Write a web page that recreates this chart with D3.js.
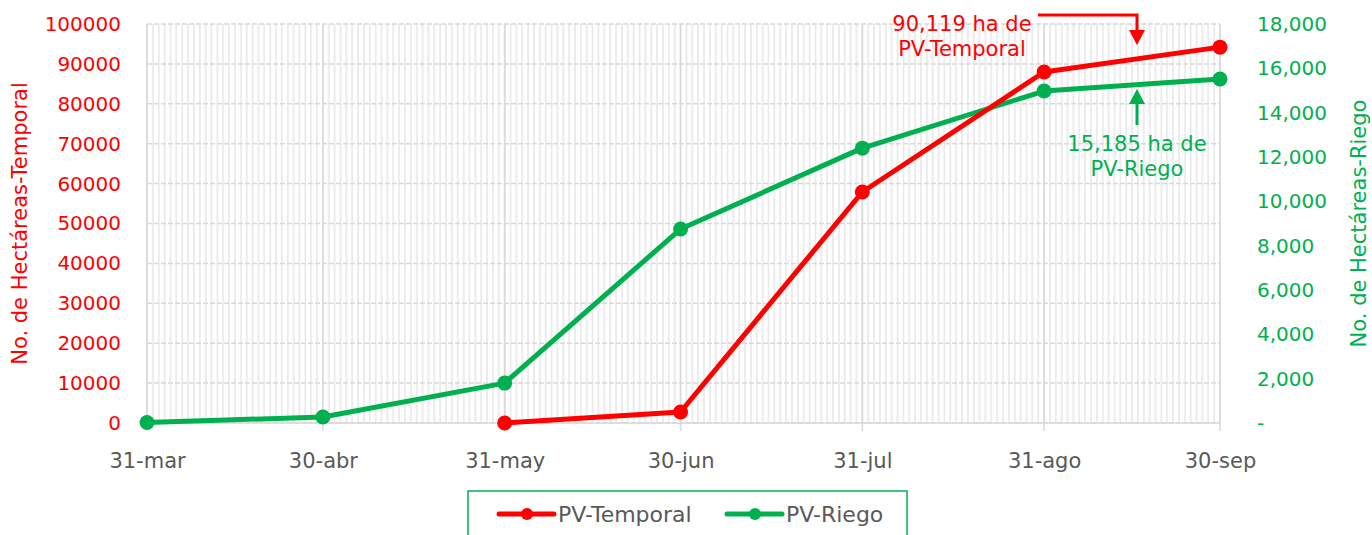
<!DOCTYPE html>
<html>
<head>
<meta charset="utf-8">
<script src="https://cdn.jsdelivr.net/npm/d3@7/dist/d3.min.js"></script>
<style>
  body { margin: 0; background: #fff; }
  text { font-family: "DejaVu Sans", sans-serif; }
</style>
</head>
<body>
<div id="chart"></div>
<script>
// data
var dates = ["2023-03-31", "2023-04-30", "2023-05-31", "2023-06-30", "2023-07-31", "2023-08-31", "2023-09-30"];
var tickLabels = ["31-mar", "30-abr", "31-may", "30-jun", "31-jul", "31-ago", "30-sep"];
var temporal = [null, null, 0, 2750, 57900, 87970, 94200];
var riego = [20, 270, 1800, 8750, 12400, 14975, 15520];
var leftTicks = [0, 10000, 20000, 30000, 40000, 50000, 60000, 70000, 80000, 90000, 100000];
var rightTicks = [0, 2000, 4000, 6000, 8000, 10000, 12000, 14000, 16000, 18000];

var red = "#ff0000";
var green = "#00b050";
var grey = "#595959";

var W = 1372, H = 535;
var margin = {top: 24, left: 147, right: 152, bottom: 112};

var svg = d3.select("#chart").append("svg")
  .attr("width", W)
  .attr("height", H);

var parse = d3.timeParse("%Y-%m-%d");
var dd = dates.map(parse);

var x = d3.scaleTime()
  .domain([dd[0], dd[dd.length - 1]])
  .range([margin.left, W - margin.right]);
var yL = d3.scaleLinear().domain([0, 100000]).range([H - margin.bottom, margin.top]);
var yR = d3.scaleLinear().domain([0, 18000]).range([H - margin.bottom, margin.top]);

// minor daily gridlines
svg.append("g").selectAll("line")
  .data(d3.timeDay.range(dd[0], d3.timeDay.offset(dd[dd.length - 1], 1)))
  .enter().append("line")
  .attr("x1", function(d) { return x(d); })
  .attr("x2", function(d) { return x(d); })
  .attr("y1", margin.top)
  .attr("y2", H - margin.bottom)
  .attr("stroke", "#ececec")
  .attr("stroke-width", 2);

// horizontal dashed gridlines
svg.append("g").selectAll("line")
  .data(leftTicks)
  .enter().append("line")
  .attr("x1", margin.left)
  .attr("x2", W - margin.right)
  .attr("y1", function(d) { return yL(d); })
  .attr("y2", function(d) { return yL(d); })
  .attr("stroke", "#d9d9d9")
  .attr("stroke-width", 1.5)
  .attr("stroke-dasharray", "5,2");

// major month lines
svg.append("g").selectAll("line")
  .data(dd)
  .enter().append("line")
  .attr("x1", function(d) { return x(d); })
  .attr("x2", function(d) { return x(d); })
  .attr("y1", margin.top)
  .attr("y2", H - margin.bottom + 8)
  .attr("stroke", "#d9d9d9")
  .attr("stroke-width", 1.5);

svg.append("line")
  .attr("x1", margin.left).attr("x2", W - margin.right)
  .attr("y1", H - margin.bottom).attr("y2", H - margin.bottom)
  .attr("stroke", "#d9d9d9").attr("stroke-width", 1.5);

// X AXIS
var xAxis = d3.axisBottom(x)
  .tickValues(dd)
  .tickSize(0)
  .tickPadding(30)
  .tickFormat(function(d, i) { return tickLabels[i]; });
var gx = svg.append("g")
  .attr("transform", "translate(0," + (H - margin.bottom) + ")")
  .call(xAxis);
gx.select(".domain").remove();
gx.selectAll("text").attr("fill", grey).style("font-size", "21px");

// LEFT AXIS
var gl = svg.append("g")
  .attr("transform", "translate(" + margin.left + ",0)")
  .call(d3.axisLeft(yL).tickValues(leftTicks).tickSize(0).tickPadding(26).tickFormat(d3.format("d")));
gl.select(".domain").remove();
gl.selectAll("text").attr("fill", red).style("font-size", "20px");

// RIGHT AXIS
var gr = svg.append("g")
  .attr("transform", "translate(" + (W - margin.right) + ",0)")
  .call(d3.axisRight(yR).tickValues(rightTicks).tickSize(0).tickPadding(37)
    .tickFormat(function(d) { return d === 0 ? "-" : d3.format(",")(d); }));
gr.select(".domain").remove();
gr.selectAll("text").attr("fill", green).style("font-size", "20px");

// axis titles
svg.append("text")
  .attr("transform", "translate(27," + ((margin.top + H - margin.bottom) / 2) + ") rotate(-90)")
  .attr("text-anchor", "middle")
  .attr("fill", red)
  .style("font-size", "21px")
  .text("No. de Hectáreas-Temporal");

svg.append("text")
  .attr("transform", "translate(1366," + ((margin.top + H - margin.bottom) / 2) + ") rotate(-90)")
  .attr("text-anchor", "middle")
  .attr("fill", green)
  .style("font-size", "21px")
  .text("No. de Hectáreas-Riego");

// LINES
function drawSeries(values, scale, color) {
  var pts = dd.map(function(d, i) { return {date: d, v: values[i]}; })
    .filter(function(p) { return p.v !== null; });
  var line = d3.line()
    .x(function(p) { return x(p.date); })
    .y(function(p) { return scale(p.v); });
  svg.append("path")
    .datum(pts)
    .attr("d", line)
    .attr("fill", "none")
    .attr("stroke", color)
    .attr("stroke-width", 5)
    .attr("stroke-linejoin", "round");
  svg.append("g").selectAll("circle")
    .data(pts)
    .enter().append("circle")
    .attr("cx", function(p) { return x(p.date); })
    .attr("cy", function(p) { return scale(p.v); })
    .attr("r", 7.5)
    .attr("fill", color);
}
drawSeries(riego, yR, green);
drawSeries(temporal, yL, red);

// annotations
var ax = 1137;
svg.append("path")
  .attr("d", "M1038,15 H" + ax + " V32")
  .attr("fill", "none").attr("stroke", red).attr("stroke-width", 3);
svg.append("path")
  .attr("d", "M" + (ax - 8) + ",30 L" + (ax + 8) + ",30 L" + ax + ",45 Z")
  .attr("fill", red);
svg.append("text").attr("x", 962).attr("y", 31).attr("text-anchor", "middle")
  .attr("fill", red).style("font-size", "21px").text("90,119 ha de");
svg.append("text").attr("x", 962).attr("y", 56).attr("text-anchor", "middle")
  .attr("fill", red).style("font-size", "21px").text("PV-Temporal");

svg.append("path")
  .attr("d", "M" + ax + ",125 V102")
  .attr("fill", "none").attr("stroke", green).attr("stroke-width", 3);
svg.append("path")
  .attr("d", "M" + (ax - 8) + ",104 L" + (ax + 8) + ",104 L" + ax + ",89 Z")
  .attr("fill", green);
svg.append("text").attr("x", ax).attr("y", 151).attr("text-anchor", "middle")
  .attr("fill", green).style("font-size", "21px").text("15,185 ha de");
svg.append("text").attr("x", ax).attr("y", 176).attr("text-anchor", "middle")
  .attr("fill", green).style("font-size", "21px").text("PV-Riego");

// LEGEND
svg.append("rect")
  .attr("x", 468).attr("y", 491).attr("width", 439).attr("height", 60)
  .attr("fill", "none").attr("stroke", green).attr("stroke-width", 1.5);

var legendItems = [
  {name: "PV-Temporal", color: red, x: 499},
  {name: "PV-Riego", color: green, x: 727}
];
var lg = svg.append("g").selectAll("g")
  .data(legendItems)
  .enter().append("g")
  .attr("transform", function(d) { return "translate(" + d.x + ",514)"; });
lg.append("line")
  .attr("x1", 0).attr("x2", 55)
  .attr("stroke", function(d) { return d.color; })
  .attr("stroke-width", 5).attr("stroke-linecap", "round");
lg.append("circle").attr("cx", 28).attr("r", 6)
  .attr("fill", function(d) { return d.color; });
lg.append("text")
  .attr("x", 59).attr("y", 8)
  .attr("fill", grey)
  .style("font-size", "22px")
  .text(function(d) { return d.name; });
</script>
</body>
</html>
